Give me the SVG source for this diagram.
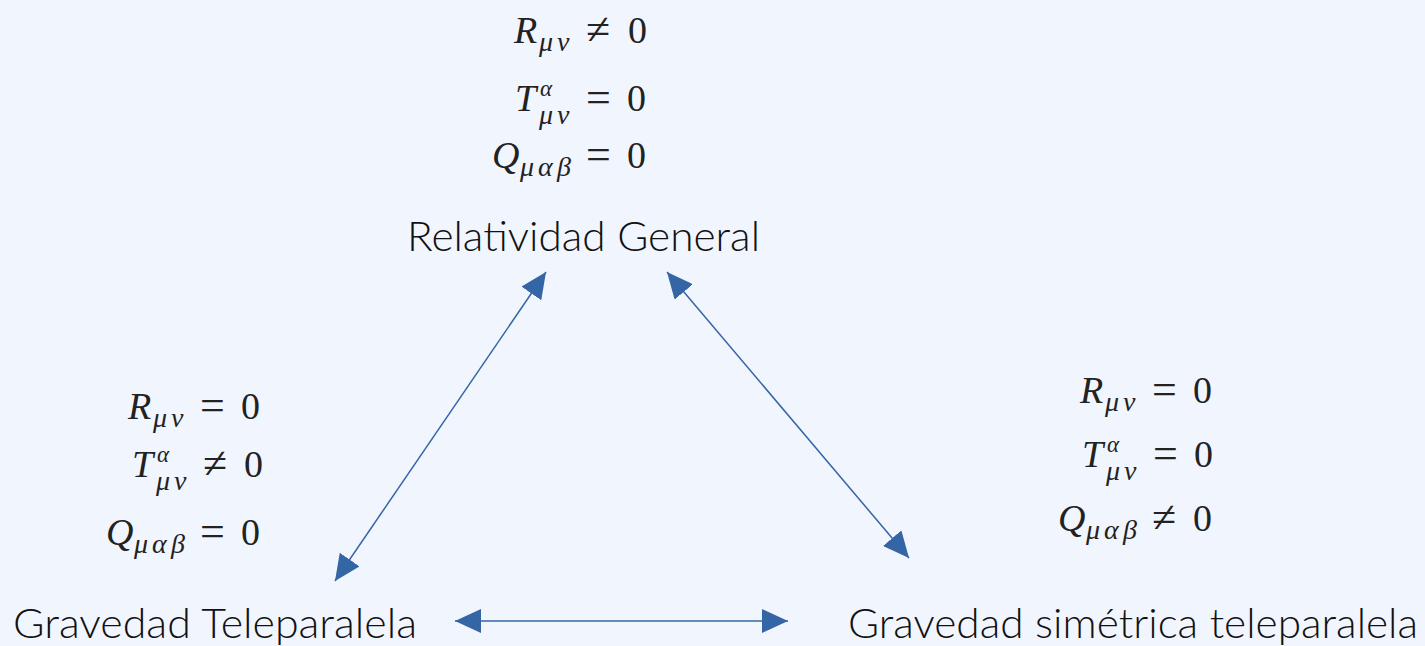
<svg xmlns="http://www.w3.org/2000/svg" width="1425" height="646" viewBox="0 0 1425 646">
<defs>
<style>
.lbl{font-family:"Lato","Open Sans",sans-serif;font-size:42px;fill:#111;font-weight:300}
.m{font-family:"Liberation Serif","DejaVu Serif",serif;font-size:38px;fill:#222}
.i{font-style:italic}
.s{font-size:28px;font-style:italic}
.sp{font-size:23px;font-style:italic}
.r{font-size:44px}
.cn{stroke:#3465a4;stroke-width:1.5;fill:none}
</style>
<marker id="ah" viewBox="0 0 26 24" refX="26" refY="12" markerWidth="26" markerHeight="24" markerUnits="userSpaceOnUse" orient="auto-start-reverse">
<path d="M0,0 L26,12 L0,24 z" fill="#3465a4"/>
</marker>
</defs>
<rect width="1425" height="646" fill="#f1f5fe"/>
<g id="rg">
<text class="m" y="43"><tspan class="i" x="514">R</tspan><tspan class="s" x="539 557" y="51">μν</tspan><tspan class="r" x="586" y="44">≠</tspan><tspan x="628" y="43">0</tspan></text>
<text class="m" y="111"><tspan class="i" x="515">T</tspan><tspan class="sp" x="540" y="96">α</tspan><tspan class="s" x="539 557" y="124">μν</tspan><tspan class="r" x="586" y="112">=</tspan><tspan x="627" y="111">0</tspan></text>
<text class="m" y="168"><tspan class="i" x="492">Q</tspan><tspan class="s" x="520 538 557" y="176">μαβ</tspan><tspan class="r" x="586" y="169">=</tspan><tspan x="627" y="168">0</tspan></text>
<text class="lbl" x="407" y="251" textLength="353" lengthAdjust="spacingAndGlyphs">Relatividad General</text>
</g>
<g id="gt">
<text class="m" y="419"><tspan class="i" x="128">R</tspan><tspan class="s" x="153 171" y="427">μν</tspan><tspan class="r" x="200" y="420">=</tspan><tspan x="241" y="419">0</tspan></text>
<text class="m" y="477"><tspan class="i" x="132">T</tspan><tspan class="sp" x="157" y="462">α</tspan><tspan class="s" x="156 174" y="490">μν</tspan><tspan class="r" x="203" y="478">≠</tspan><tspan x="244" y="477">0</tspan></text>
<text class="m" y="545"><tspan class="i" x="106">Q</tspan><tspan class="s" x="134 152 171" y="553">μαβ</tspan><tspan class="r" x="200" y="546">=</tspan><tspan x="241" y="545">0</tspan></text>
<text class="lbl" x="13" y="638" textLength="404" lengthAdjust="spacingAndGlyphs">Gravedad Teleparalela</text>
</g>
<g id="gs">
<text class="m" y="403"><tspan class="i" x="1080">R</tspan><tspan class="s" x="1105 1123" y="411">μν</tspan><tspan class="r" x="1152" y="404">=</tspan><tspan x="1193" y="403">0</tspan></text>
<text class="m" y="467"><tspan class="i" x="1082">T</tspan><tspan class="sp" x="1107" y="452">α</tspan><tspan class="s" x="1106 1124" y="480">μν</tspan><tspan class="r" x="1153" y="468">=</tspan><tspan x="1194" y="467">0</tspan></text>
<text class="m" y="531"><tspan class="i" x="1058">Q</tspan><tspan class="s" x="1086 1104 1123" y="539">μαβ</tspan><tspan class="r" x="1152" y="532">≠</tspan><tspan x="1193" y="531">0</tspan></text>
<text class="lbl" x="848" y="638" textLength="570" lengthAdjust="spacingAndGlyphs">Gravedad simétrica teleparalela</text>
</g>
<g id="connectors">
<line class="cn" x1="335" y1="581" x2="546" y2="272" marker-start="url(#ah)" marker-end="url(#ah)"/>
<line class="cn" x1="909" y1="558" x2="667" y2="272" marker-start="url(#ah)" marker-end="url(#ah)"/>
<line class="cn" x1="455" y1="621" x2="788" y2="621" marker-start="url(#ah)" marker-end="url(#ah)"/>
</g>
</svg>
